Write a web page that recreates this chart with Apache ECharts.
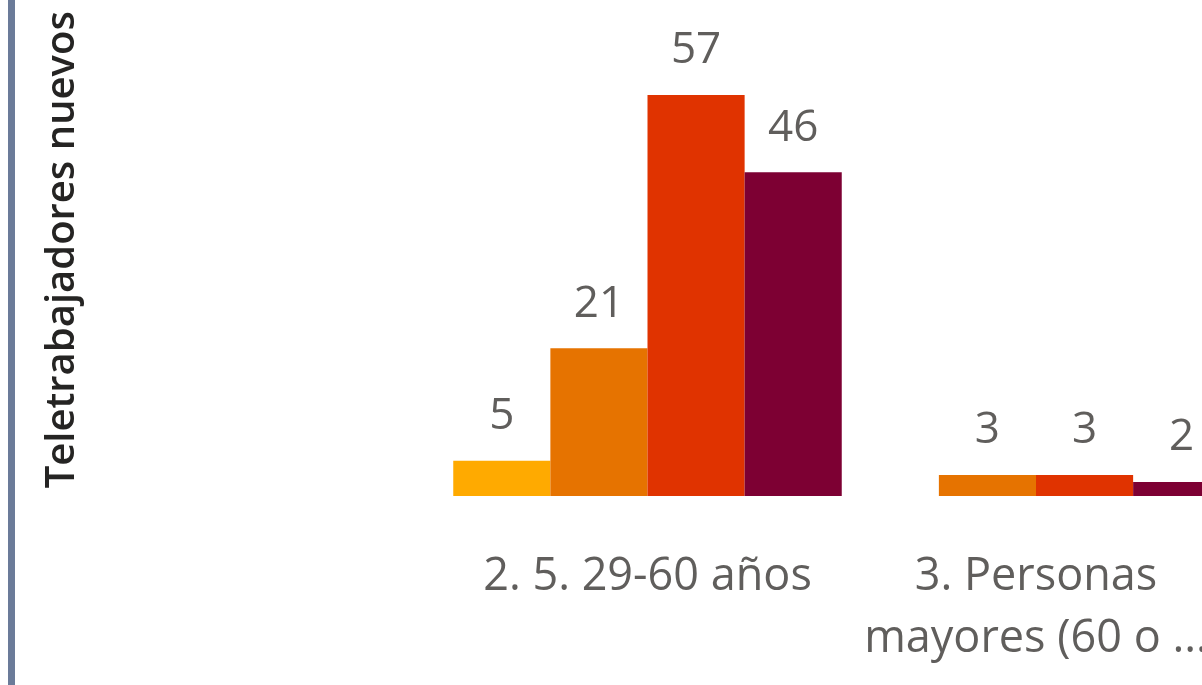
<!DOCTYPE html>
<html>
<head>
<meta charset="utf-8">
<script src="https://cdn.jsdelivr.net/npm/echarts@6/dist/echarts.min.js"></script>
<style>
html,body{margin:0;padding:0;background:#fff;}
#main{width:1202px;height:685px;}
</style>
</head>
<body>
<div id="main"></div>
<script>
const categories = ['', '2. 5. 29-60 años', '3. Personas\nmayores (60 o ...'];
const seriesNames = ['Serie 1', 'Serie 2', 'Serie 3', 'Serie 4'];
const values1 = [null, 5, null];
const values2 = [null, 21, 3];
const values3 = [null, 57, 3];
const values4 = [null, 46, 2];
const colors = ['#FFAA00', '#E67300', '#E03300', '#7D0033'];
const yTitle = 'Teletrabajadores nuevos';

const seriesData = [values1, values2, values3, values4];
const font = '"Open Sans", "Noto Sans", sans-serif';

const chart = echarts.init(document.getElementById('main'), null, {renderer: 'canvas'});
chart.setOption({
  animation: false,
  backgroundColor: '#ffffff',
  grid: {left: 259, width: 777, top: 3.5, height: 492.5, containLabel: false, outerBoundsMode: 'none'},
  xAxis: {
    type: 'category',
    data: categories,
    boundaryGap: false,
    axisLine: {show: false},
    axisTick: {show: false},
    splitLine: {show: false},
    axisLabel: {
      color: '#605E5C', fontSize: 45, fontFamily: font,
      lineHeight: 62, margin: 50, interval: 0
    }
  },
  yAxis: {
    type: 'value', min: 0, max: 70,
    axisLabel: {show: false}, axisLine: {show: false}, axisTick: {show: false},
    splitLine: {show: false},
    name: yTitle, nameLocation: 'middle', nameGap: 176, nameRotate: 90,
    nameTextStyle: {color: '#252423', fontSize: 40, fontWeight: 600, fontFamily: font}
  },
  graphic: [{
    type: 'rect', shape: {x: 8, y: 0, width: 7, height: 685},
    style: {fill: '#6B7B99'}, silent: true
  }],
  series: seriesData.map((d, i) => ({
    name: seriesNames[i],
    type: 'bar',
    data: d,
    clip: false,
    barGap: '0%',
    barCategoryGap: '0%',
    itemStyle: {color: colors[i]},
    label: {
      show: true, position: 'top', distance: 22,
      color: '#605E5C', fontSize: 44, fontFamily: font
    }
  }))
});
</script>
</body>
</html>
